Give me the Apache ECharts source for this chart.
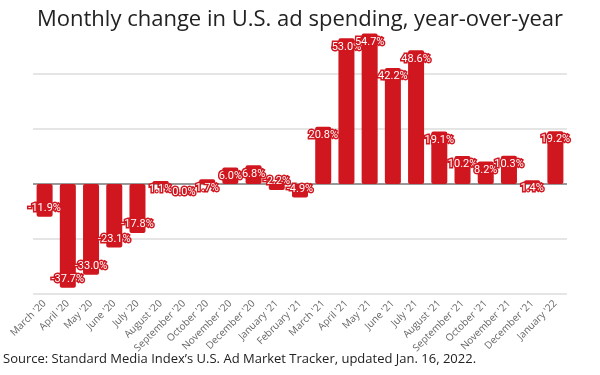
<!DOCTYPE html>
<html>
<head>
<meta charset="utf-8">
<script src="https://cdn.jsdelivr.net/npm/echarts@6/dist/echarts.min.js"></script>
<style>
  html, body { margin: 0; padding: 0; background: #fff; }
  #chart { width: 600px; height: 375px; }
</style>
</head>
<body>
<div id="chart"></div>
<script>
const months = [
  "March '20", "April '20", "May '20", "June '20", "July '20", "August '20",
  "September '20", "October '20", "November '20", "December '20", "January '21",
  "February '21", "March '21", "April '21", "May '21", "June '21", "July '21",
  "August '21", "September '21", "October '21", "November '21", "December '21",
  "January '22"
];
const changePct = [
  -11.9, -37.7, -33.0, -23.1, -17.8, 1.1, 0.0, 1.7, 6.0, 6.8, -2.2,
  -4.9, 20.8, 53.0, 54.7, 42.2, 48.6, 19.1, 10.2, 8.2, 10.3, 1.4, 19.2
];
const yTicks = [-40, -20, 0, 20, 40, 60];

const RED = '#d0161f';
const chart = echarts.init(document.getElementById('chart'));

const barData = changePct.map((v) => ({
  value: v,
  label: { position: v >= 0 ? 'insideTop' : 'insideBottom' },
}));

chart.setOption({
  animation: false,
  backgroundColor: '#fff',
  title: {
    text: 'Monthly change in U.S. ad spending, year-over-year',
    left: 'center',
    top: 4,
    textStyle: { fontFamily: 'Open Sans', fontSize: 22, fontWeight: 'normal', color: '#222' },
  },
  graphic: [{
    type: 'text',
    left: 3,
    top: 353,
    style: {
      text: "Source: Standard Media Index\u2019s U.S. Ad Market Tracker, updated Jan. 16, 2022.",
      font: '13px "Open Sans"',
      fill: '#222',
    },
  }],
  grid: { left: 33, right: 33, top: 19, bottom: 81 },
  xAxis: {
    type: 'category',
    data: months,
    axisLine: { show: false, onZero: false },
    axisTick: { show: false },
    axisLabel: {
      rotate: 45,
      interval: 0,
      margin: 8,
      fontFamily: 'Open Sans',
      fontSize: 10,
      color: '#666',
    },
  },
  yAxis: {
    type: 'value',
    min: yTicks[0],
    max: yTicks[yTicks.length - 1],
    interval: 20,
    axisLabel: { show: false },
    axisLine: { show: false },
    axisTick: { show: false },
    splitLine: {
      lineStyle: {
        color: yTicks.map((t) => (t === 0 ? '#777' : t === 60 ? 'rgba(0,0,0,0)' : '#dcdcdc')),
        width: 1.5,
      },
    },
  },
  series: [{
    type: 'bar',
    data: barData,
    barCategoryGap: '31%',
    itemStyle: { color: RED, borderRadius: 2 },
    label: {
      show: true,
      distance: 3,
      formatter: (p) => p.value.toFixed(1) + '%',
      fontFamily: 'Roboto',
      fontSize: 11,
      color: '#fff',
      textBorderColor: RED,
      textBorderWidth: 3,
    },
  }],
});
</script>
</body>
</html>
